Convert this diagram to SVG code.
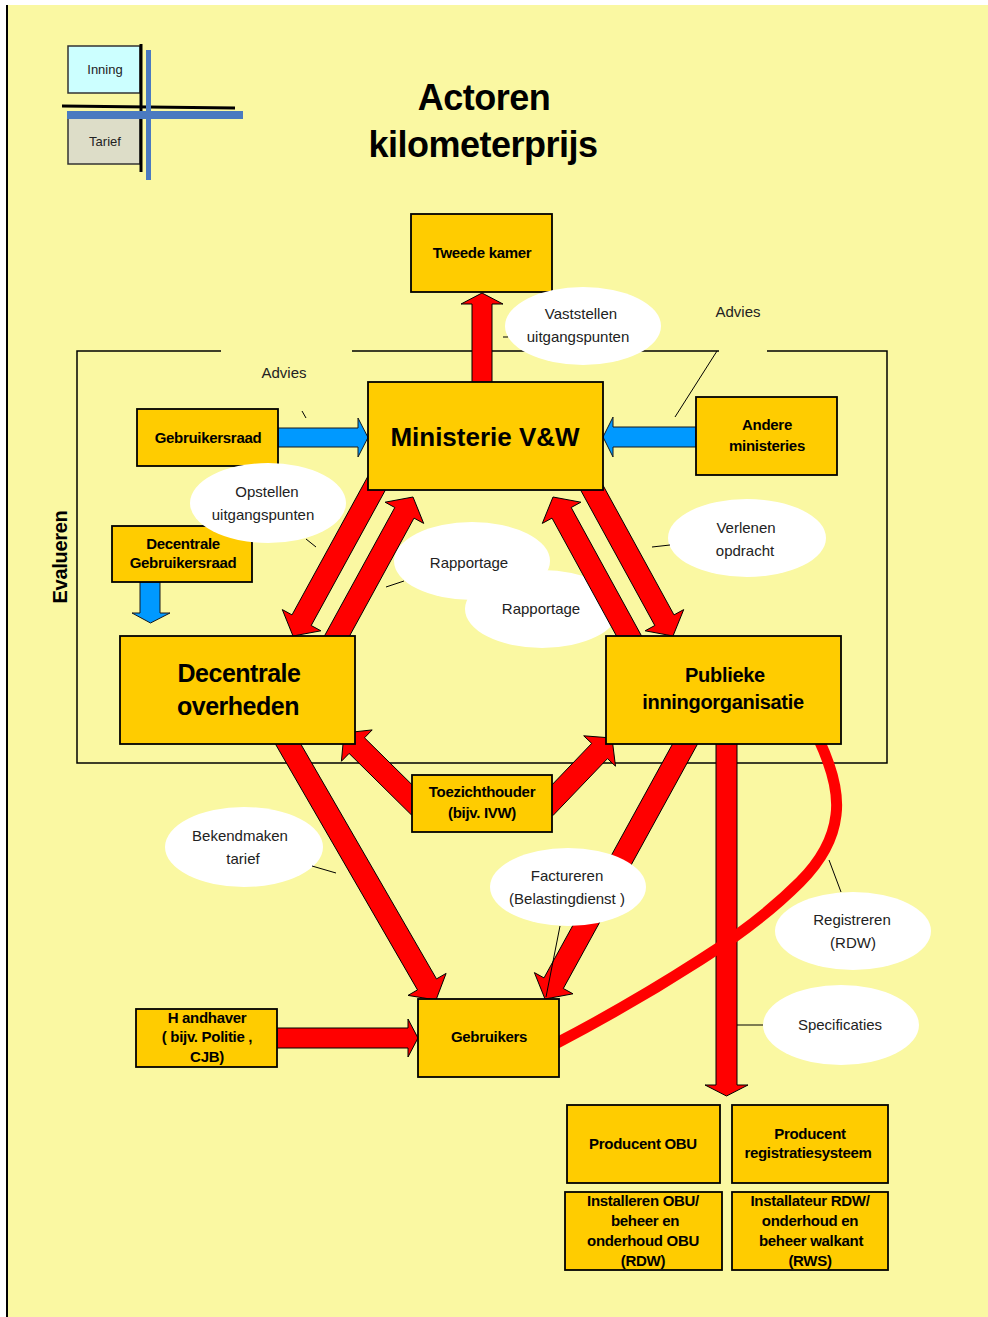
<svg xmlns="http://www.w3.org/2000/svg" width="988" height="1317" viewBox="0 0 988 1317">
<style>
.box{fill:#FFCC00;stroke:#000;stroke-width:1.8}
.red{fill:#FF0000;stroke:#000;stroke-width:1}
.blue{fill:#0099FF;stroke:#1a1a1a;stroke-width:1}
.bt{font-family:"Liberation Sans",Arial,sans-serif;font-weight:bold;font-size:15px;text-anchor:middle;fill:#000;letter-spacing:-0.3px}
.et{font-family:"Liberation Sans",Arial,sans-serif;font-size:15px;text-anchor:middle;fill:#222}
.ell{fill:#fff}
.lead{stroke:#000;stroke-width:1;fill:none}
</style>
<rect x="0" y="0" width="988" height="1317" fill="#ffffff"/>
<rect x="8" y="5" width="980" height="1312" fill="#FAF8A2"/>
<line x1="7" y1="5" x2="7" y2="1317" stroke="#000" stroke-width="2"/>

<g id="legend">
  <rect x="68" y="46" width="72" height="47" fill="#CCFFFF" stroke="#333" stroke-width="1.5"/>
  <text x="105" y="74" style="font-family:'Liberation Sans',Arial,sans-serif;font-size:13px;text-anchor:middle;fill:#222">Inning</text>
  <rect x="68" y="118" width="72" height="46" fill="#DDDDC8" stroke="#333" stroke-width="1.5"/>
  <text x="105" y="146" style="font-family:'Liberation Sans',Arial,sans-serif;font-size:13px;text-anchor:middle;fill:#222">Tarief</text>
  <line x1="141" y1="44" x2="141" y2="172" stroke="#000" stroke-width="3"/>
  <line x1="62" y1="106" x2="235" y2="108" stroke="#000" stroke-width="3"/>
  <line x1="67" y1="115" x2="243" y2="115" stroke="#4A7AC0" stroke-width="8"/>
  <line x1="148.5" y1="50" x2="148.5" y2="180" stroke="#4A7AC0" stroke-width="5"/>
</g>

<g id="title" style="font-family:'Liberation Sans',Arial,sans-serif;font-weight:bold;font-size:36px;text-anchor:middle;fill:#000;letter-spacing:-0.5px">
  <text x="484" y="110">Actoren</text>
  <text x="483" y="157">kilometerprijs</text>
</g>

<path id="frame" d="M221 351 H77 V763 H887 V351 H767 M719 351 H352" fill="none" stroke="#000" stroke-width="1.5"/>

<text id="evalueren" x="60" y="564" transform="rotate(-90 60 557)" style="font-family:'Liberation Sans',Arial,sans-serif;font-weight:bold;font-size:20px;text-anchor:middle;fill:#000;letter-spacing:-0.3px">Evalueren</text>

<g id="lbl-rapportage">
  <g id="lbl-rapportage-1"><ellipse class="ell" cx="472" cy="561" rx="78" ry="39"/><text class="et" x="469" y="568">Rapportage</text><line class="lead" x1="404" y1="581" x2="386" y2="587"/></g>
  <g id="lbl-rapportage-2"><ellipse class="ell" cx="542" cy="609" rx="77" ry="39"/><text class="et" x="541" y="614">Rapportage</text></g>
</g>

<g id="connectors">
  <polygon class="red" points="472,390 472,304 461,304 482,293 503,304 492,304 492,390"/>
  <polygon class="blue" points="278,428 358,428 358,418 368,437.5 358,457 358,447 278,447"/>
  <polygon class="blue" points="696,427 613,427 613,417 603,437 613,457 613,447 696,447"/>
  <polygon class="blue" points="140,582 140,613 132,613 150.5,623 170,613 160,613 160,582"/>
  <polygon class="red" points="391.4,479.1 311.2,625.5 320.9,630.8 293,636 282.3,609.6 292,614.9 372.2,468.5"/>
  <polygon class="red" points="338.7,655.8 414,518.1 423.7,523.4 413,497 385.1,502.2 394.8,507.5 319.4,645.2"/>
  <polygon class="red" points="574.6,479.1 654.8,625.5 645.1,630.8 673,636 683.7,609.6 674,614.9 593.8,468.5"/>
  <polygon class="red" points="627.3,655.8 552,518.1 542.3,523.4 553,497 580.9,502.2 571.2,507.5 646.6,645.2"/>
  <polygon class="red" points="426.7,799.2 364.5,737.8 372.2,729.9 344,733 341.4,761.3 349.1,753.4 411.3,814.8"/>
  <polygon class="red" points="552.9,815.6 607.5,758.6 615.5,766.2 612,738 583.7,735.8 591.7,743.4 537.1,800.4"/>
  <polygon class="red" points="270.5,735.5 417.5,989.9 408,995.4 436,1000 446.1,973.4 436.5,978.9 289.5,724.5"/>
  <polygon class="red" points="680.4,729.7 544,977.9 534.4,972.6 545,999 573,993.8 563.3,988.5 699.6,740.3"/>
  <polygon class="red" points="277,1028 408,1028 408,1019 418,1038 408,1057 408,1048 277,1048"/>
  <polygon class="red" points="716,735 716,1085 705,1085 726.5,1096 748,1085 737,1085 737,735"/>
  <path d="M819 740 Q840 785 836 815 Q832 850 800 882 Q760 922 700 960 Q630 1005 555 1044" fill="none" stroke="#FF0000" stroke-width="11"/>
</g>

<g id="tweede-kamer"><rect class="box" x="411" y="214" width="141" height="78"/><text class="bt" x="482" y="258">Tweede kamer</text></g>
<g id="ministerie"><rect class="box" x="368" y="382" width="235" height="108"/><text class="bt" x="485" y="446" style="font-size:26px;letter-spacing:0">Ministerie V&amp;W</text></g>
<g id="gebruikersraad"><rect class="box" x="137" y="409" width="141" height="57"/><text class="bt" x="208" y="443">Gebruikersraad</text></g>
<g id="andere-ministeries"><rect class="box" x="696" y="397" width="141" height="78"/><text class="bt" x="767" y="430">Andere</text><text class="bt" x="767" y="451">ministeries</text></g>
<g id="decentrale-gebruikersraad"><rect class="box" x="112" y="526" width="140" height="56"/><text class="bt" x="183" y="549">Decentrale</text><text class="bt" x="183" y="568">Gebruikersraad</text></g>
<g id="decentrale-overheden"><rect class="box" x="120" y="636" width="235" height="108"/><text class="bt" x="239" y="682" style="font-size:25px;letter-spacing:-0.5px">Decentrale</text><text class="bt" x="238" y="715" style="font-size:25px;letter-spacing:-0.5px">overheden</text></g>
<g id="publieke-inningorganisatie"><rect class="box" x="606" y="636" width="235" height="108"/><text class="bt" x="725" y="682" style="font-size:20px">Publieke</text><text class="bt" x="723" y="709" style="font-size:20px">inningorganisatie</text></g>
<g id="toezichthouder"><rect class="box" x="412" y="775" width="140" height="57"/><text class="bt" x="482" y="797">Toezichthouder</text><text class="bt" x="482" y="818">(bijv. IVW)</text></g>
<g id="handhaver"><rect class="box" x="136" y="1009" width="141" height="58"/><text class="bt" x="207" y="1023">H andhaver</text><text class="bt" x="207" y="1042">( bijv. Politie ,</text><text class="bt" x="207" y="1062">CJB)</text></g>
<g id="gebruikers"><rect class="box" x="418" y="999" width="141" height="78"/><text class="bt" x="489" y="1042">Gebruikers</text></g>
<g id="producent-obu"><rect class="box" x="567" y="1105" width="153" height="78"/><text class="bt" x="643" y="1149">Producent OBU</text></g>
<g id="producent-registratiesysteem"><rect class="box" x="732" y="1105" width="156" height="78"/><text class="bt" x="810" y="1139">Producent</text><text class="bt" x="808" y="1158">registratiesysteem</text></g>
<g id="installeren-obu"><rect class="box" x="565" y="1192" width="157" height="78"/><text class="bt" x="643" y="1206">Installeren OBU/</text><text class="bt" x="645" y="1226">beheer en</text><text class="bt" x="643" y="1246">onderhoud OBU</text><text class="bt" x="643" y="1266">(RDW)</text></g>
<g id="installateur-rdw"><rect class="box" x="732" y="1192" width="156" height="78"/><text class="bt" x="810" y="1206">Installateur RDW/</text><text class="bt" x="810" y="1226">onderhoud en</text><text class="bt" x="811" y="1246">beheer walkant</text><text class="bt" x="810" y="1266">(RWS)</text></g>

<g id="labels">
  <g id="lbl-vaststellen"><ellipse class="ell" cx="583" cy="326" rx="78" ry="39"/><text class="et" x="581" y="319">Vaststellen</text><text class="et" x="578" y="342">uitgangspunten</text><line class="lead" x1="503" y1="337" x2="508" y2="337"/></g>
  <g id="lbl-advies-1"><text class="et" x="284" y="378">Advies</text><line class="lead" x1="302" y1="411" x2="306" y2="418"/></g>
  <g id="lbl-advies-2"><text class="et" x="738" y="317">Advies</text><line class="lead" x1="717" y1="351" x2="675" y2="417"/></g>
  <g id="lbl-opstellen"><ellipse class="ell" cx="268" cy="503" rx="78" ry="40"/><text class="et" x="267" y="497">Opstellen</text><text class="et" x="263" y="520">uitgangspunten</text><line class="lead" x1="306" y1="539" x2="316" y2="547"/></g>
  <g id="lbl-verlenen"><ellipse class="ell" cx="747" cy="538" rx="79" ry="39"/><text class="et" x="746" y="533">Verlenen</text><text class="et" x="745" y="556">opdracht</text><line class="lead" x1="652" y1="547" x2="670" y2="545"/></g>
  <g id="lbl-bekendmaken"><ellipse class="ell" cx="244" cy="847" rx="79" ry="40"/><text class="et" x="240" y="841">Bekendmaken</text><text class="et" x="243" y="864">tarief</text><line class="lead" x1="312" y1="866" x2="336" y2="873"/></g>
  <g id="lbl-factureren"><ellipse class="ell" cx="568" cy="887" rx="78" ry="39"/><text class="et" x="567" y="881">Factureren</text><text class="et" x="567" y="904">(Belastingdienst )</text><line class="lead" x1="560" y1="926" x2="546" y2="997"/></g>
  <g id="lbl-registreren"><ellipse class="ell" cx="853" cy="931" rx="78" ry="39"/><text class="et" x="852" y="925">Registreren</text><text class="et" x="853" y="948">(RDW)</text><line class="lead" x1="841" y1="892" x2="829" y2="860"/></g>
  <g id="lbl-specificaties"><ellipse class="ell" cx="841" cy="1025" rx="78" ry="40"/><text class="et" x="840" y="1030">Specificaties</text><line class="lead" x1="763" y1="1025" x2="737" y2="1025"/></g>
</g>
</svg>
